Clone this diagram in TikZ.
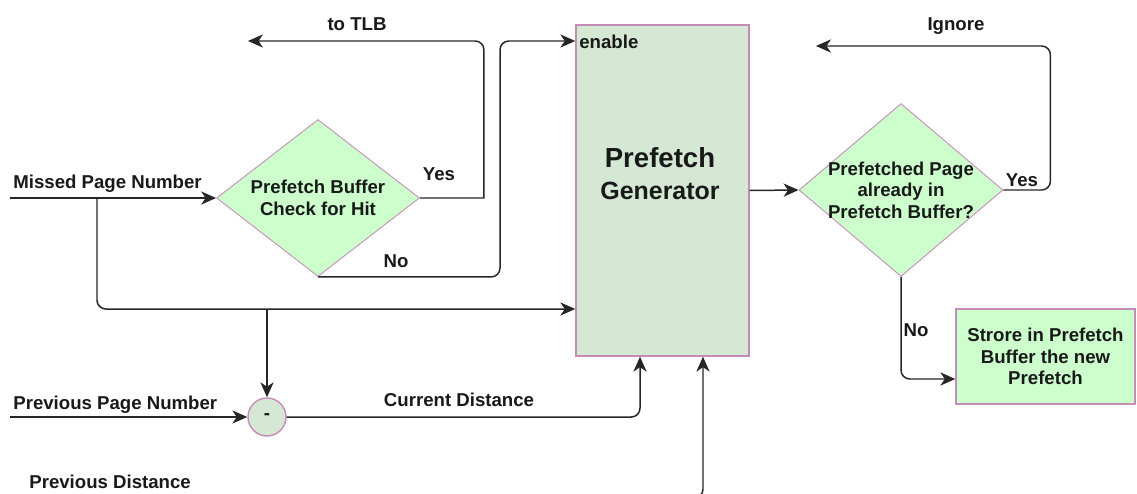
\documentclass[tikz,border=0pt]{standalone}
\usepackage{fontspec}
\setmainfont{Liberation Sans}
\usepackage{tikz}
\usetikzlibrary{shapes.geometric, arrows.meta, calc}
\definecolor{hitfill}{RGB}{204, 255, 204}
\definecolor{genfill}{RGB}{213, 232, 212}
\definecolor{pinkline}{RGB}{196, 140, 182}

\begin{document}
\begin{tikzpicture}[x=0.02cm, y=-0.02cm,
		every node/.style={font=\bfseries\fontsize{10.6}{12.3}\selectfont, inner sep=0pt, text=black!90},
		lbl/.style={text depth=0pt},
		flow/.style={draw=black!85, line width=0.85pt, -{Stealth[length=8.5pt, width=7.5pt, inset=2.5pt]}},
		decision/.style={diamond, draw=pinkline, fill=hitfill, line width=0.5pt},
		block/.style={rectangle, draw=pinkline, line width=0.8pt}]

			\useasboundingbox (0,0) rectangle (1137,494);

			% --- Blocks ---
			\node[decision, minimum width=4.06cm, minimum height=3.14cm] (chk) at (318,198) {};
			\node[align=center] (chktxt) at (chk) {Prefetch Buffer\\Check for Hit};

			\node[block, fill=genfill, minimum width=3.46cm, minimum height=6.62cm] (gen) at (662.5,190.5) {};
			\node[font=\bfseries\fontsize{15.7}{18}\selectfont] (genA) at (660,158) {Prefetch};
			\node[font=\bfseries\fontsize{14.2}{17}\selectfont] (genB) at (660,191) {Generator};

			\node[decision, minimum width=4.08cm, minimum height=3.46cm] (ask) at (901,190) {};
			\node[align=center] (asktxt) at (ask) {Prefetched Page\\already in\\Prefetch Buffer?};

			\node[block, fill=hitfill, minimum width=3.58cm, minimum height=1.9cm, align=center] (store) at (1045.5,356.5) {Strore in Prefetch\\Buffer the new\\Prefetch};

			\node[circle, draw=pinkline, fill=genfill, line width=0.8pt, minimum size=0.76cm] (minus) at (267,417) {-};

			% --- Free ends ---
			\coordinate (missin) at (10,198);
			\coordinate (tap) at (97,198);
			\coordinate (j) at (267,309);
			\coordinate (tlb) at (248,41);
			\coordinate (ign) at (816,46);
			\coordinate (previn) at (10,417);
			\coordinate (pdin) at (660,498);

			% --- Connectors ---
			\draw[flow] (missin) -- (chk.west);
			\draw[flow, rounded corners=5pt] (tap) |- (gen.west |- j);
			\draw[flow] (j) -- (minus.north);
			\draw[flow] (chk.east) -- ++(64,0) [rounded corners=5pt] -- ++(0,-157) -- (tlb);
			\draw[flow, rounded corners=5pt] (chk.south) -- ++(182,0) |- (gen.west |- tlb);
			\draw[flow] (gen.east) -- (ask.west);
			\draw[flow, rounded corners=5pt] (ask.east) -- ++(47,0) |- (ign);
			\draw[flow, rounded corners=5pt] (ask.south) |- ([yshift=-0.45cm]store.west);
			\draw[flow] (previn) -- (minus.west);
			\draw[flow, rounded corners=5pt] (minus.east) -| ([xshift=-0.45cm]gen.south);
			\draw[flow, rounded corners=5pt] (pdin) -| ([xshift=0.81cm]gen.south);

			% --- Labels ---
			\node[lbl, anchor=west] (lblmiss) at (13,182) {Missed Page Number};
			\node[lbl] (lbltlb) at (357,24) {to TLB};
			\node[lbl] (lblyes) at (439,174) {Yes};
			\node[lbl] (lblno) at (396,261) {No};
			\node[lbl, anchor=west] (lblen) at (579,42) {enable};
			\node[lbl] (lblign) at (956,24) {Ignore};
			\node[lbl] (lblyes2) at (1022,180) {Yes};
			\node[lbl] (lblno2) at (916,330) {No};
			\node[lbl, anchor=west] (lblprev) at (13,403) {Previous Page Number};
			\node[lbl] (lblcur) at (459,400) {Current Distance};
			\node[lbl, anchor=west] (lblpd) at (29,482) {Previous Distance};
		\end{tikzpicture}
\end{document}
